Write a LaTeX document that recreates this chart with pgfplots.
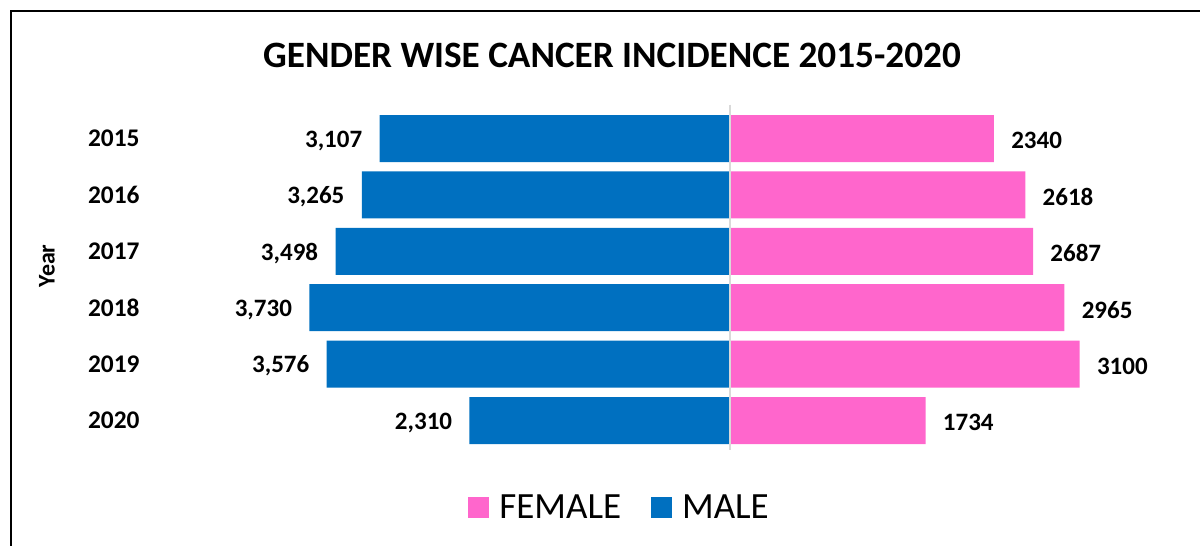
\documentclass[border=0pt]{standalone}
\usepackage{fontspec}
\setmainfont{Carlito}
\usepackage{pgfplots}
\usepackage{pgfplotstable}
\pgfplotsset{compat=1.18}
\definecolor{maleblue}{HTML}{0070C0}
\definecolor{femalepink}{HTML}{FF66CC}
\definecolor{midline}{HTML}{D9D9D9}
\pgfplotstableread{
idx female flab
0 2340 2340
1 2618 2618
2 2687 2687
3 2965 2965
4 3100 3100
5 1734 1734
}\femaletable
\pgfplotstableread{
idx male mlab
0 -3107 3{,}107
1 -3265 3{,}265
2 -3498 3{,}498
3 -3730 3{,}730
4 -3576 3{,}576
5 -2310 2{,}310
}\maletable
\begin{document}
\begin{tikzpicture}
\path[use as bounding box] (0,0) rectangle (600bp,-273bp);
\draw[line width=1bp, black] (5.5bp,-400bp) -- (5.5bp,-5.5bp) -- (800bp,-5.5bp);
\node[font=\fontsize{18.6bp}{22bp}\selectfont\bfseries] at (306bp,-27.5bp) {GENDER WISE CANCER INCIDENCE 2015-2020};
\node[rotate=90, font=\fontsize{12bp}{14bp}\selectfont\bfseries] at (23.5bp,-133bp) {Year};
\begin{axis}[
  at={(365bp,-69.25bp)}, anchor=origin,
  x=0.0564bp, y=28.2bp, y dir=reverse,
  xmin=-5160, xmax=4200, ymin=-0.8, ymax=5.8,
  axis line style={draw=none},
  major tick style={draw=none},
  xtick=\empty,
  ytick={0,1,2,3,4,5},
  yticklabels={2015,2016,2017,2018,2019,2020},
  yticklabel style={font=\fontsize{12.7bp}{15bp}\selectfont\bfseries, xshift=3.5bp},
  clip=false,
  xbar, bar shift=0pt, bar width=23.5bp,
  point meta=explicit symbolic,
  nodes near coords,
  nodes near coords style={font=\fontsize{12.5bp}{15bp}\selectfont\bfseries, inner xsep=8.5bp, yshift=-1bp},
  legend style={at={(axis cs:-970,6.55)}, anchor=center, draw=none, fill=none,
    legend columns=-1, font=\fontsize{18.5bp}{21bp}\selectfont,
    /tikz/every even column/.append style={column sep=13bp}},
  legend image code/.code={\fill[#1,draw=none] (0bp,-5.25bp) rectangle (10.5bp,5.25bp); \path (13.5bp,0bp);},
]
\addplot[fill=femalepink, draw=none, nodes near coords style={anchor=west}] table[x=female, y=idx, meta=flab] {\femaletable};
\addlegendentry{FEMALE}
\addplot[fill=maleblue, draw=none, nodes near coords style={anchor=east}] table[x=male, y=idx, meta=mlab] {\maletable};
\addlegendentry{MALE}
\addplot[draw=midline, line width=1bp, forget plot, sharp plot, nodes near coords={}, no markers] coordinates {(0,-0.6) (0,5.53)};
\end{axis}
\end{tikzpicture}
\end{document}
